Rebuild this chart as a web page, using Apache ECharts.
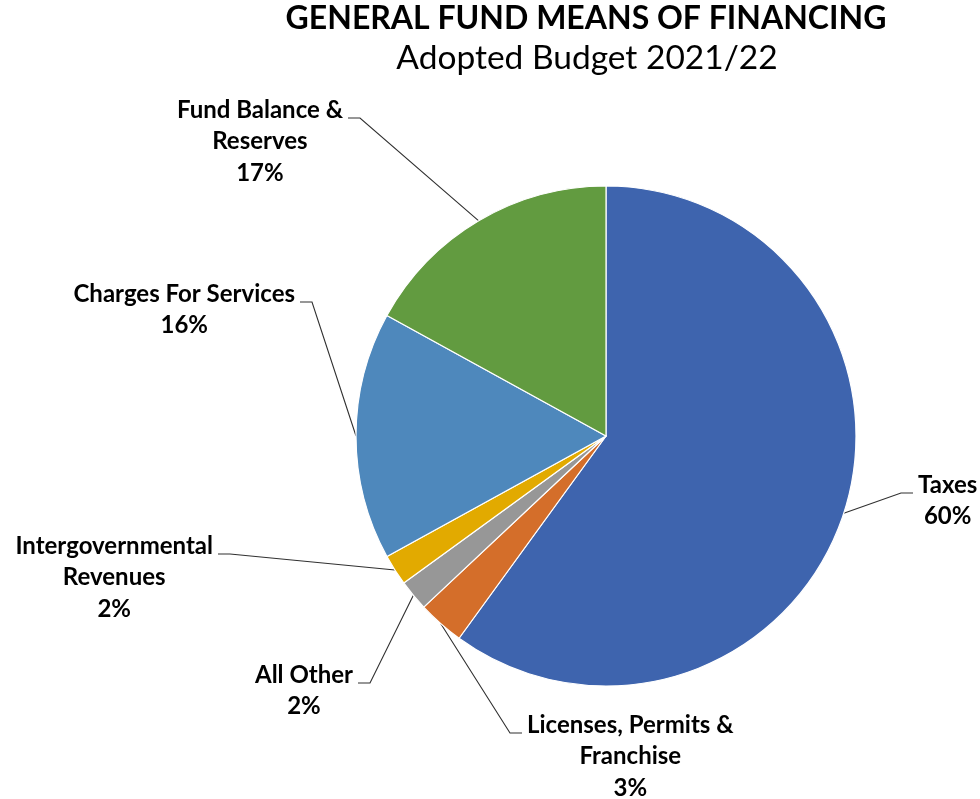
<!DOCTYPE html>
<html>
<head>
<meta charset="utf-8">
<title>General Fund Means of Financing</title>
<script src="https://cdn.jsdelivr.net/npm/echarts@6/dist/echarts.min.js"></script>
<style>
  html, body { margin: 0; padding: 0; background: #ffffff; }
  #chart { width: 980px; height: 799px; }
</style>
</head>
<body>
<div id="chart"></div>
<script>
// Funding sources, clockwise from 12 o'clock
const categories = [
  'Taxes',
  'Licenses, Permits &\nFranchise',
  'All Other',
  'Intergovernmental\nRevenues',
  'Charges For Services',
  'Fund Balance &\nReserves'
];
const shares = [60, 3, 2, 2, 16, 17];
const sliceColors = ['#3e64ae', '#d46e2a', '#979797', '#e2aa00', '#4e88bc', '#629b40'];

// Where each leader line ends (offset from the pie centre) and which side the text sits on
const leaderEnds = [
  { dx: 307, dy: 57, side: 'right' },
  { dx: -84, dy: 297, side: 'right' },
  { dx: -248, dy: 247, side: 'left' },
  { dx: -388, dy: 118, side: 'left' },
  { dx: -306, dy: -134, side: 'left' },
  { dx: -258, dy: -318, side: 'left' }
];

const CX = 606, CY = 436, R = 250;
const FONT = 'Lato, "Noto Sans", sans-serif';
const LINE_H = 31.5;

const chart = echarts.init(document.getElementById('chart'), null, { renderer: 'canvas' });

chart.setOption({
  animation: false,
  backgroundColor: '#ffffff',
  title: [
    {
      text: 'GENERAL FUND MEANS OF FINANCING',
      left: 581, top: -2, textAlign: 'center',
      textStyle: { fontFamily: FONT, fontWeight: 'bold', fontSize: 32, color: '#000000' }
    },
    {
      text: 'Adopted Budget 2021/22',
      left: 582, top: 36, textAlign: 'center',
      textStyle: { fontFamily: FONT, fontWeight: 'normal', fontSize: 33.5, color: '#000000' }
    }
  ],
  series: [{
    type: 'pie',
    center: [CX, CY],
    radius: R,
    startAngle: 90,
    clockwise: true,
    avoidLabelOverlap: false,
    itemStyle: { borderColor: '#ffffff', borderWidth: 1.2 },
    label: {
      show: true,
      position: 'outside',
      formatter: p => p.name + '\n' + p.value + '%',
      fontFamily: FONT,
      fontWeight: 'bold',
      fontSize: 24,
      lineHeight: LINE_H,
      color: '#000000',
      align: 'center'
    },
    labelLine: {
      show: true,
      length: 20,
      length2: 10,
      lineStyle: { color: '#303030', width: 1.1 }
    },
    labelLayout: function (p) {
      const end = leaderEnds[p.dataIndex];
      const ex = CX + end.dx, ey = CY + end.dy;
      const w = p.labelRect.width;
      const gap = 5, tail = 12;
      const start = p.labelLinePoints ? p.labelLinePoints[0] : [ex, ey];
      let lx, bendX;
      if (end.side === 'right') {
        lx = ex + gap + w / 2;
        bendX = ex - tail;
      } else {
        lx = ex - gap - w / 2;
        bendX = ex + tail;
      }
      return {
        x: lx,
        y: ey - LINE_H / 2 - 8,
        align: 'center',
        verticalAlign: 'top',
        labelLinePoints: [start, [bendX, ey], [ex, ey]]
      };
    },
    data: categories.map((name, i) => ({
      name: name,
      value: shares[i],
      itemStyle: { color: sliceColors[i] }
    }))
  }]
});
</script>
</body>
</html>
